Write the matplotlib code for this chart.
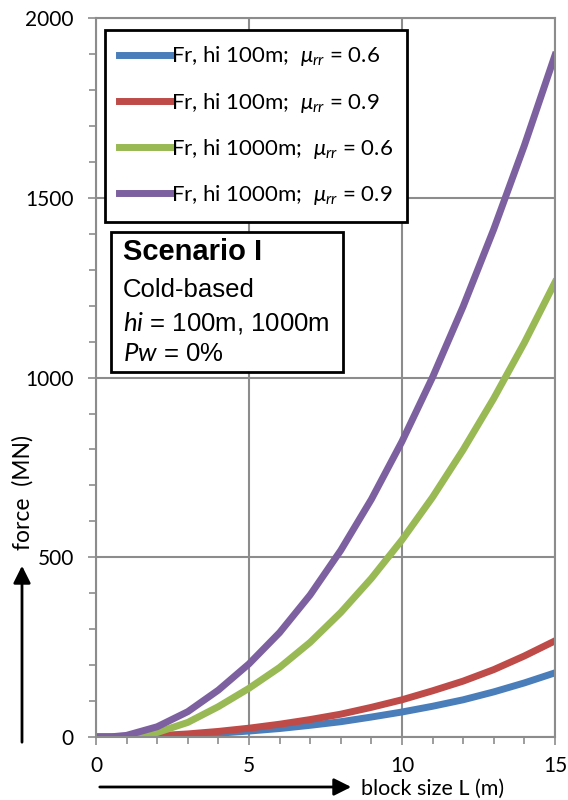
import numpy as np
import matplotlib.pyplot as plt
from matplotlib.patches import Rectangle, FancyArrowPatch

plt.rcParams['font.family'] = ['Lato', 'DejaVu Sans']
plt.rcParams['mathtext.fontset'] = 'custom'
plt.rcParams['mathtext.rm'] = 'Lato'
plt.rcParams['mathtext.it'] = 'Lato:italic'

# Block size L (m)
block_size = [0, 0.5, 1, 2, 3, 4, 5, 6, 7, 8, 9, 10, 11, 12, 13, 14, 15]

# Resisting force (MN)
fr_100_06 = [0, 0, 0, 2, 5, 10, 16, 23, 32, 42, 55, 69, 85, 103, 125, 150, 178]
fr_100_09 = [0, 0, 0, 3, 8, 15, 24, 35, 48, 63, 82, 103, 128, 155, 187, 225, 267]
fr_1000_06 = [0, 0, 0, 12, 40, 84, 135, 193, 263, 346, 441, 548, 667, 799, 942, 1097, 1265]
fr_1000_09 = [0, 0, 4, 28, 70, 130, 203, 290, 395, 519, 661, 822, 1001, 1198, 1413, 1646, 1897]

labels = [r"Fr, hi 100m;  $\mu_{rr}$ = 0.6",
          r"Fr, hi 100m;  $\mu_{rr}$ = 0.9",
          r"Fr, hi 1000m;  $\mu_{rr}$ = 0.6",
          r"Fr, hi 1000m;  $\mu_{rr}$ = 0.9"]
colors = ["#4A7EBB", "#BE4B48", "#98B954", "#7D60A0"]
series = [fr_100_06, fr_100_09, fr_1000_06, fr_1000_09]

fig = plt.figure(figsize=(5.68, 8.0), dpi=100)
ax = fig.add_axes([0.169, 0.079, 0.808, 0.898])

for vals, lab, col in zip(series, labels, colors):
    ax.plot(block_size, vals, color=col, lw=5, label=lab, solid_joinstyle='round')

grey = "#8C8C8C"
ax.set_xlim(0, 15)
ax.set_ylim(0, 2000)
ax.set_xticks([0, 5, 10, 15])
ax.set_yticks([0, 500, 1000, 1500, 2000])
ax.set_xticks(np.arange(0, 16, 1), minor=True)
ax.set_yticks(np.arange(0, 2001, 100), minor=True)
ax.grid(True, which='major', color=grey, lw=1.5)
for s in ax.spines.values():
    s.set_color(grey)
    s.set_linewidth(1.5)
ax.tick_params(which='both', direction='out', color=grey, width=1.2, labelsize=15)
ax.tick_params(which='major', length=6, pad=8)
ax.tick_params(which='minor', length=5)
ax.tick_params(axis='y', pad=10)

leg = ax.legend(loc='upper left', bbox_to_anchor=(105 / 568, 1 - 30 / 800),
                bbox_transform=fig.transFigure, fontsize=16, frameon=True,
                fancybox=False, edgecolor='black', framealpha=1,
                handlelength=2.3, handletextpad=0.0, labelspacing=1.0,
                borderpad=0.65, borderaxespad=0)
leg.get_frame().set_linewidth(2)

# Scenario box
fig.patches.append(Rectangle((111 / 568, 1 - 372 / 800), 232 / 568, 140 / 800,
                             transform=fig.transFigure, facecolor='white',
                             edgecolor='black', lw=2, zorder=5))
txt_kw = dict(family='Liberation Sans', va='center', zorder=6)
fig.text(123 / 568, 1 - 252 / 800, "Scenario I", fontsize=21, fontweight='bold', **txt_kw)
fig.text(123 / 568, 1 - 290 / 800, "Cold-based", fontsize=18.5, **txt_kw)
fig.text(123 / 568, 1 - 323 / 800, r"$\it{hi}$ = 100m, 1000m", fontsize=18.5, **txt_kw)
fig.text(123 / 568, 1 - 354 / 800, r"$\it{Pw}$ = 0%", fontsize=18.5, **txt_kw)

# Axis labels with arrows
fig.text(23 / 568, 1 - 493 / 800, "force  (MN)", rotation=90, fontsize=16.5,
         ha='center', va='center')
fig.patches.append(FancyArrowPatch((22 / 568, 1 - 745 / 800), (22 / 568, 1 - 563 / 800),
                                   transform=fig.transFigure, arrowstyle='-|>',
                                   mutation_scale=26, lw=2, color='black'))
fig.text(433 / 568, 1 - 789 / 800, "block size L (m)", fontsize=15.5,
         ha='center', va='center')
fig.patches.append(FancyArrowPatch((97 / 568, 1 - 787 / 800), (354 / 568, 1 - 787 / 800),
                                   transform=fig.transFigure, arrowstyle='-|>',
                                   mutation_scale=26, lw=2, color='black'))

plt.savefig("out.png", dpi=100)
